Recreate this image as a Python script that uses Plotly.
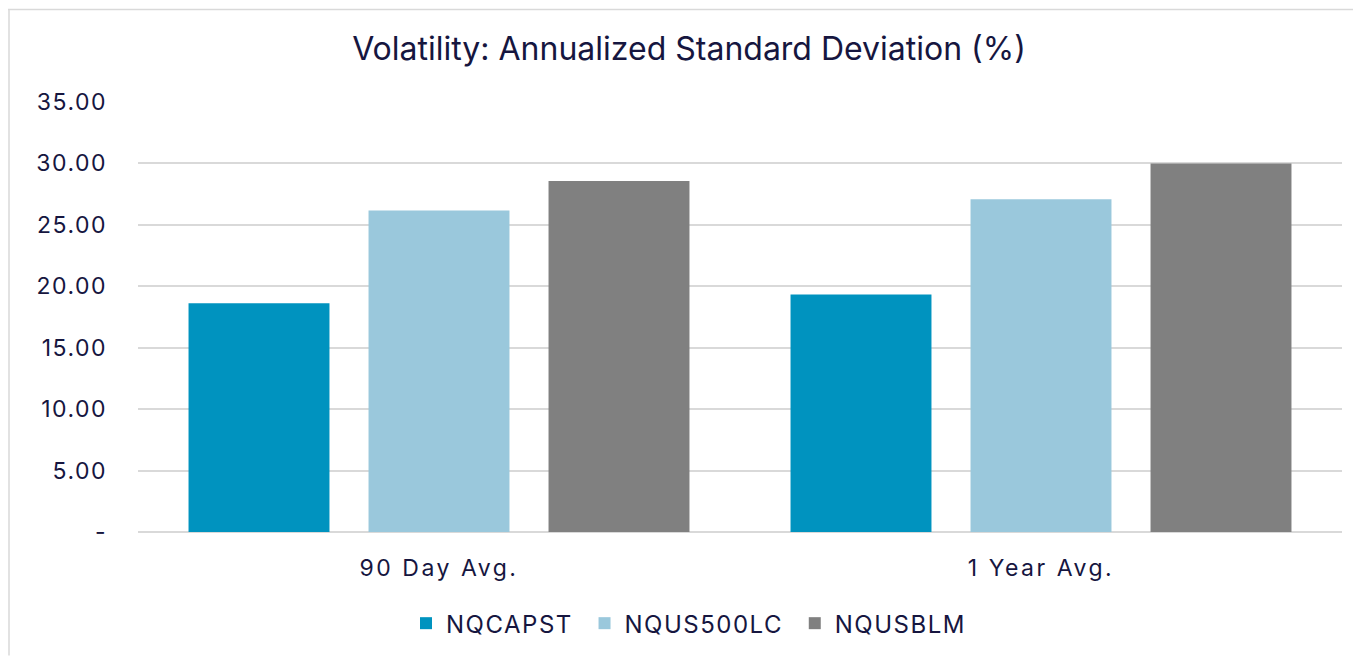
import plotly.graph_objects as go

categories = ["90 Day Avg.", "1 Year Avg."]
series_names = ["NQCAPST", "NQUS500LC", "NQUSBLM"]
nqcapst = [18.61, 19.34]
nqus500lc = [26.16, 27.08]
nqusblm = [28.57, 30.00]
colors = ["#0093BF", "#9AC8DC", "#808080"]
tick_vals = [0, 5, 10, 15, 20, 25, 30, 35]
tick_text = ["-", "5.00", "10.00", "15.00", "20.00", "25.00", "30.00", "35.00"]

W, H = 1353, 650
L, R, T, B = 130, 19, 94, 124
pw, ph = W - L - R, H - T - B

txt = "#16163f"
font_family = "Inter, Roboto, sans-serif"


def spaced(s, px):
    return '<span style="letter-spacing:%spx">%s</span>' % (px, s)


fig = go.Figure()
for name, vals, c in zip(series_names, [nqcapst, nqus500lc, nqusblm], colors):
    fig.add_trace(go.Bar(x=categories, y=vals, name=spaced(name, 1.5) + "&nbsp;",
                         marker=dict(color=c, line=dict(width=0))))


def px_x(x):
    return (x - L) / pw


def px_y(y):
    return (H - B - y) / ph


fig.update_layout(
    width=W, height=H,
    margin=dict(l=L, r=R, t=T, b=B),
    paper_bgcolor="white", plot_bgcolor="white",
    barmode="group", bargap=0.103, bargroupgap=0.217,
    font=dict(family=font_family, color=txt, size=22),
    title=dict(text="Volatility: Annualized Standard Deviation (%)", x=681 / W, xanchor="center",
               y=1 - 41 / H, yanchor="middle", font=dict(size=32, color=txt, family=font_family)),
    xaxis=dict(showgrid=False, showline=False, ticks="", tickfont=dict(size=23, color=txt),
               tickvals=categories, ticktext=[spaced(c, 2.5) for c in categories],
               ticklabelstandoff=20),
    yaxis=dict(range=[0, 35], tickvals=tick_vals, ticktext=[spaced(t, 1.5) for t in tick_text],
               showgrid=True,
               gridcolor="#d9d9d9", gridwidth=1.5, zeroline=True, zerolinecolor="#d9d9d9",
               zerolinewidth=1.5, showline=False, ticks="", tickfont=dict(size=23, color=txt),
               ticklabelstandoff=30),
    legend=dict(orientation="h", x=px_x(398), xanchor="left", y=px_y(618), yanchor="middle",
                font=dict(size=24, color=txt), itemwidth=30, traceorder="normal"),
    showlegend=True,
    shapes=[
        dict(type="line", xref="paper", yref="paper", x0=px_x(0), x1=px_x(W), y0=px_y(1), y1=px_y(1),
             line=dict(color="#d9d9d9", width=1.5)),
        dict(type="line", xref="paper", yref="paper", x0=px_x(1), x1=px_x(1), y0=px_y(1), y1=px_y(H),
             line=dict(color="#d9d9d9", width=1.5)),
    ],
)

fig.write_html("out.html")
